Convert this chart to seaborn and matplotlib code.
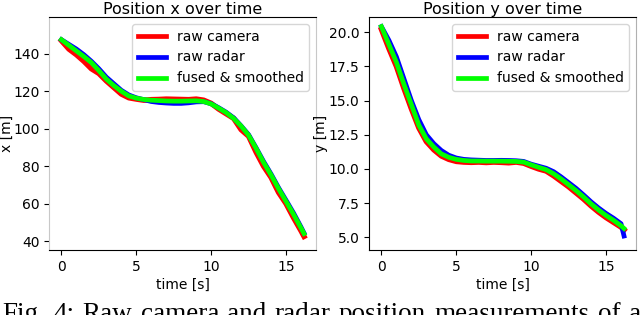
import seaborn as sns
import matplotlib.pyplot as plt
import pandas as pd

# sample times [s]
time = [0, 0.5, 1, 1.5, 2, 2.5, 3, 3.5, 4, 4.5, 5, 5.5, 6, 6.5, 7, 7.5, 8,
        8.5, 9, 9.5, 10, 10.5, 11, 11.5, 12, 12.5, 13, 13.5, 14, 14.5, 15,
        15.5, 16, 16.2]

# position x [m]
x_camera = [147.0, 142.5, 139.5, 136.0, 132.0, 129.5, 125.5, 122.0, 118.5,
            116.5, 115.8, 115.2, 115.5, 115.6, 115.8, 115.7, 115.6, 115.5,
            115.8, 115.2, 113.5, 110.5, 108.0, 105.5, 99.5, 96.0, 87.5,
            80.0, 74.0, 66.0, 60.0, 52.5, 45.5, 42.5]
x_radar = [147.5, 145.0, 142.5, 139.5, 136.0, 132.0, 127.5, 124.0, 120.5,
           118.0, 116.5, 115.5, 114.5, 114.0, 113.7, 113.5, 113.5, 113.8,
           114.3, 114.4, 113.3, 111.2, 108.8, 105.8, 101.5, 96.8, 89.8,
           82.5, 75.8, 68.5, 61.8, 55.0, 47.5, 44.3]
x_fused = [147.5, 144.5, 141.5, 138.5, 135.3, 131.0, 126.5, 123.0, 120.0,
           117.5, 116.3, 115.6, 115.2, 115.0, 114.8, 114.7, 114.7, 114.8,
           114.9, 114.5, 113.2, 111.0, 108.6, 105.5, 101.4, 96.5, 89.5,
           82.0, 75.3, 68.0, 61.2, 54.3, 47.0, 44.0]

# position y [m]
y_camera = [20.2, 18.8, 17.5, 15.9, 14.4, 13.0, 12.0, 11.4, 10.95, 10.7,
            10.55, 10.5, 10.48, 10.5, 10.47, 10.5, 10.48, 10.45, 10.5, 10.42,
            10.2, 10.0, 9.85, 9.5, 9.1, 8.7, 8.25, 7.8, 7.3, 6.85, 6.45,
            6.1, 5.75, 5.55]
y_radar = [20.4, 19.4, 18.2, 16.6, 15.0, 13.6, 12.5, 11.85, 11.35, 11.0,
           10.8, 10.7, 10.66, 10.64, 10.62, 10.62, 10.63, 10.62, 10.6, 10.55,
           10.35, 10.2, 10.05, 9.8, 9.42, 9.0, 8.58, 8.1, 7.6, 7.15, 6.75,
           6.4, 6.0, 5.1]
y_fused = [20.4, 19.1, 17.8, 16.2, 14.7, 13.2, 12.2, 11.6, 11.1, 10.85,
           10.7, 10.62, 10.58, 10.58, 10.57, 10.57, 10.57, 10.56, 10.55, 10.5,
           10.3, 10.12, 9.95, 9.65, 9.27, 8.85, 8.42, 7.95, 7.45, 7.0, 6.6,
           6.25, 5.85, 5.65]

labels = ["raw camera", "raw radar", "fused & smoothed"]
palette = {"raw camera": "#ff0000", "raw radar": "#0000ff",
           "fused & smoothed": "#00ff00"}
caption_text = "Fig. 4: Raw camera and radar position measurements of a"


def long_frame(camera, radar, fused):
    frames = []
    for name, vals in zip(labels, [camera, radar, fused]):
        frames.append(pd.DataFrame({"time": time, "value": vals, "source": name}))
    return pd.concat(frames, ignore_index=True)


df_x = long_frame(x_camera, x_radar, x_fused)
df_y = long_frame(y_camera, y_radar, y_fused)

plt.rcParams["font.family"] = ["DejaVu Sans"]
fig = plt.figure(figsize=(6.4, 3.15), dpi=100)
ax1 = fig.add_axes([0.077, 0.206, 0.417, 0.74])
ax2 = fig.add_axes([0.577, 0.206, 0.417, 0.74])

panels = [(ax1, df_x, "x [m]", "Position x over time", (35.2, 159.6), -0.133),
          (ax2, df_y, "y [m]", "Position y over time", (4.07, 21.1), -0.155)]

for ax, df, ylab, title, ylim, lab_x in panels:
    sns.lineplot(data=df, x="time", y="value", hue="source", hue_order=labels,
                 palette=palette, linewidth=3.4, sort=False, ax=ax)
    ax.lines[0].set_linewidth(3.9)
    ax.set_ylim(*ylim)
    ax.set_xticks([0, 5, 10, 15])
    ax.set_xlabel("time [s]", fontsize=10, labelpad=3)
    ax.set_ylabel(ylab, fontsize=10)
    ax.yaxis.set_label_coords(lab_x, 0.5)
    ax.set_title(title, fontsize=11.5, pad=2.5)
    ax.tick_params(labelsize=10)
    leg = ax.legend(loc="upper right", fontsize=10)
    for line in leg.get_lines():
        line.set_linewidth(3.4)

for sp in ["left", "right"]:
    ax1.spines[sp].set_color("#c8c8c8")
ax2.spines["right"].set_color("#b0b0b0")

# justified caption, cut by the bottom edge like in the paper
fig.canvas.draw()
renderer = fig.canvas.get_renderer()
words = caption_text.split(" ")
items = []
total = 0.0
for w in words:
    t = fig.text(0, -0.019, w, family=["Liberation Serif", "DejaVu Serif"],
                 fontsize=19.5, ha="left", va="baseline")
    wd = t.get_window_extent(renderer).width
    items.append((t, wd))
    total += wd
x0, x1 = 2.0, 641.0
gap = (x1 - x0 - total) / (len(words) - 1)
pos = x0
for t, wd in items:
    t.set_x(pos / 640.0)
    pos += wd + gap

fig.savefig("out.png", dpi=100)
